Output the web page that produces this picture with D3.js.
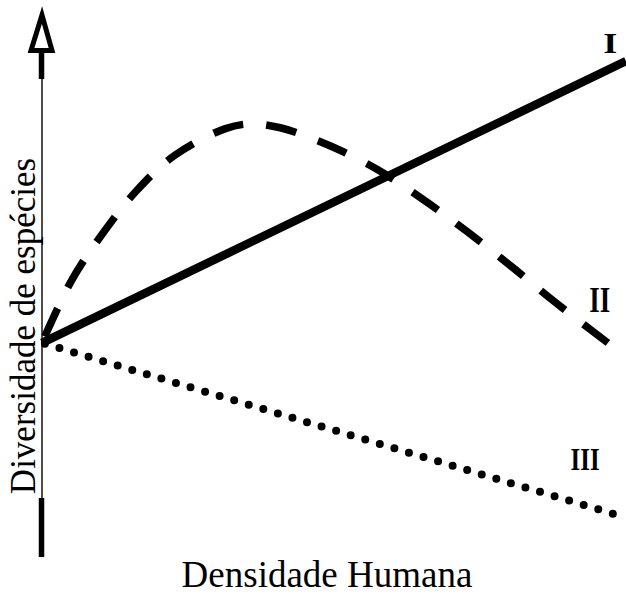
<!DOCTYPE html>
<html>
<head>
<meta charset="utf-8">
<script src="https://cdn.jsdelivr.net/npm/d3@7"></script>
<style>
  html, body { margin: 0; padding: 0; background: #fff; }
  svg { display: block; }
  text { font-family: "Liberation Serif", "Times New Roman", serif; fill: #000; }
</style>
</head>
<body>
<svg id="chart" width="626" height="594"></svg>
<script>
// ---- Data (arbitrary units) ----
const xLabel = "Densidade Humana";
const yLabel = "Diversidade de espécies";
const seriesNames = ["I", "II", "III"];

// Series I: linear increase
const lineIx = [0, 100];
const lineIy = [39.4, 91.0];

// Series II: hump-shaped (rise then fall)
const lineIIx = [0, 5.1, 10.3, 16.3, 22.8, 31.3, 35.6, 40.8, 49.3, 57.5, 65.6, 72.9, 80.5, 87.8, 96.9];
const lineIIy = [39.4, 50.9, 59.3, 67.4, 73.8, 78.6, 79.5, 78.8, 75.5, 71.1, 65.4, 59.7, 53.3, 46.9, 39.4];

// Series III: linear decrease
const lineIIIx = [0, 100];
const lineIIIy = [39.4, 7.4];

// Label positions (data units)
const labelX = [97.3, 95.5, 93.0];
const labelY = [92.5, 45.1, 16.1];

// ---- Layout ----
const svg = d3.select("#chart");
const x = d3.scaleLinear().domain([0, 100]).range([42, 626]);
const y = d3.scaleLinear().domain([0, 100]).range([558, 12]);

const zip = (xs, ys) => xs.map((v, i) => [v, ys[i]]);
const line = d3.line().x(d => x(d[0])).y(d => y(d[1]));

// ---- Y axis with arrow ----
const axisX = x(0);
svg.append("line")
  .attr("x1", axisX).attr("x2", axisX)
  .attr("y1", 79).attr("y2", 500)
  .attr("stroke", "#000").attr("stroke-width", 1.4);
svg.append("line")
  .attr("x1", axisX - 0.5).attr("x2", axisX - 0.5)
  .attr("y1", 50).attr("y2", 79)
  .attr("stroke", "#000").attr("stroke-width", 5.5);
svg.append("line")
  .attr("x1", axisX - 0.5).attr("x2", axisX - 0.5)
  .attr("y1", 498).attr("y2", y(0) - 1)
  .attr("stroke", "#000").attr("stroke-width", 5.5);
svg.append("path")
  .attr("d", `M${axisX},15 L${axisX - 11},50.5 L${axisX + 10},50.5 Z`)
  .attr("fill", "#fff").attr("stroke", "#000")
  .attr("stroke-width", 5).attr("stroke-linejoin", "miter");

// ---- Series ----
// III dotted
svg.append("path")
  .datum(zip(lineIIIx, lineIIIy))
  .attr("d", line)
  .attr("fill", "none").attr("stroke", "#000")
  .attr("stroke-width", 8)
  .attr("stroke-linecap", "round")
  .attr("stroke-dasharray", "0,15.2")
  .attr("stroke-dashoffset", -3);

// II dashed (dash pattern aligned to end at the last point)
const dashPath = svg.append("path")
  .datum(zip(lineIIx, lineIIy))
  .attr("d", d3.line().x(d => x(d[0])).y(d => y(d[1])).curve(d3.curveCatmullRom.alpha(0.5)))
  .attr("fill", "none").attr("stroke", "#000")
  .attr("stroke-width", 7.5)
  .attr("stroke-dasharray", "31,23");
const L = dashPath.node().getTotalLength();
dashPath.attr("stroke-dashoffset", 31 - (L % 54));

// I solid
svg.append("path")
  .datum(zip(lineIx, lineIy))
  .attr("d", d3.line().x(d => x(d[0])).y(d => y(d[1])))
  .attr("fill", "none").attr("stroke", "#000")
  .attr("stroke-width", 8.5);

// ---- Series labels ----
const labelSizes = [30, 36, 31];
const labelWidths = [14, 21, 29];
svg.selectAll("text.series")
  .data(seriesNames)
  .join("text")
  .attr("class", "series")
  .attr("x", (d, i) => x(labelX[i]))
  .attr("y", (d, i) => y(labelY[i]))
  .attr("text-anchor", "middle")
  .attr("font-weight", "bold")
  .attr("font-size", (d, i) => labelSizes[i])
  .attr("textLength", (d, i) => labelWidths[i])
  .attr("lengthAdjust", "spacingAndGlyphs")
  .text(d => d);

// ---- Axis titles ----
svg.append("text")
  .attr("x", 327).attr("y", 587)
  .attr("text-anchor", "middle")
  .attr("font-size", 37)
  .text(xLabel);

svg.append("text")
  .attr("transform", "translate(35,326) rotate(-90)")
  .attr("text-anchor", "middle")
  .attr("font-size", 35)
  .text(yLabel);
</script>
</body>
</html>
